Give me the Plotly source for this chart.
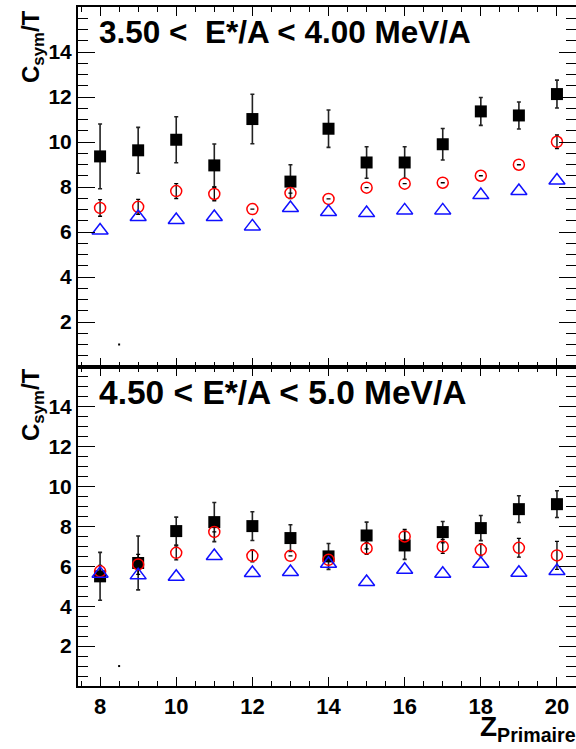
import plotly.graph_objects as go
from plotly.subplots import make_subplots

# ---------------- data ----------------
Z = [8, 9, 10, 11, 12, 13, 14, 15, 16, 17, 18, 19, 20]

top_sq = [9.36, 9.63, 10.10, 8.96, 11.02, 8.24, 10.59, 9.09, 9.09, 9.90, 11.36, 11.18, 12.13]
top_sq_err = [1.44, 1.02, 1.02, 0.95, 1.10, 0.75, 0.83, 0.70, 0.70, 0.70, 0.62, 0.60, 0.62]
top_ci = [7.07, 7.12, 7.82, 7.69, 7.02, 7.73, 7.47, 7.97, 8.15, 8.19, 8.50, 8.99, 10.01]
top_ci_err = [0.37, 0.33, 0.33, 0.30, 0.0, 0.0, 0.0, 0.0, 0.0, 0.0, 0.0, 0.0, 0.30]
top_tri = [6.07, 6.67, 6.53, 6.67, 6.25, 7.07, 6.89, 6.84, 6.96, 6.96, 7.64, 7.82, 8.29]

bot_sq = [5.50, 6.17, 7.77, 8.22, 8.02, 7.42, 6.50, 7.55, 7.05, 7.72, 7.92, 8.87, 9.12]
bot_sq_err = [1.20, 1.35, 0.70, 0.98, 0.72, 0.67, 0.65, 0.67, 0.70, 0.53, 0.63, 0.67, 0.67]
bot_ci = [5.75, 6.10, 6.68, 7.73, 6.53, 6.53, 6.33, 6.90, 7.50, 7.00, 6.83, 6.93, 6.55]
bot_ci_err = [0.30, 0.50, 0.35, 0.0, 0.30, 0.0, 0.0, 0.30, 0.35, 0.35, 0.30, 0.47, 0.70]
bot_tri = [5.63, 5.55, 5.48, 6.52, 5.67, 5.72, 6.13, 5.22, 5.83, 5.63, 6.13, 5.68, 5.77]

stray_x = [8.5]
stray_y = [1.0]

y_ticks = [2, 4, 6, 8, 10, 12, 14]
x_ticks = [8, 10, 12, 14, 16, 18, 20]

top_label = "3.50 <\u00a0 E*/A < 4.00 MeV/A"
bot_label = "4.50 < E*/A < 5.0 MeV/A"
y_title = "<b>C<sub>sym</sub>/T</b>"
x_title = "<b>Z<sub>Primaire</sub></b>"

# ---------------- figure ----------------
W, H = 576, 749
ML, MR, MT, MB = 78, 0, 7, 63
PH = H - MT - MB

fig = make_subplots(rows=2, cols=1, shared_xaxes=True, vertical_spacing=0,
                    row_heights=[360, PH - 360])

FONT = "Liberation Sans"


def add_panel(row, sq, sq_err, ci, ci_err, tri):
    fig.add_trace(go.Scatter(
        x=Z, y=sq, mode="markers",
        marker=dict(symbol="square", size=12, color="black", line=dict(width=0)),
        error_y=dict(type="data", array=sq_err, color="#222222", thickness=1.6, width=2),
        showlegend=False), row=row, col=1)
    fig.add_trace(go.Scatter(
        x=Z, y=ci, mode="markers",
        marker=dict(symbol="circle-open", size=11, color="#ff0000", line=dict(width=1.5)),
        error_y=dict(type="data", array=ci_err, color="black", thickness=1.3, width=2),
        showlegend=False), row=row, col=1)
    fig.add_trace(go.Scatter(
        x=Z, y=tri, mode="markers",
        marker=dict(symbol="triangle-up-open", size=14, color="#1010ff", line=dict(width=1.5)),
        showlegend=False), row=row, col=1)
    fig.add_trace(go.Scatter(
        x=stray_x, y=stray_y, mode="markers",
        marker=dict(symbol="square", size=2, color="black"),
        showlegend=False), row=row, col=1)


add_panel(1, top_sq, top_sq_err, top_ci, top_ci_err, top_tri)
add_panel(2, bot_sq, bot_sq_err, bot_ci, bot_ci_err, bot_tri)

xcommon = dict(range=[7.42, 20.5], tickvals=x_ticks, ticks="inside", ticklen=9,
               tickwidth=1, tickcolor="black", showline=True, linewidth=2,
               linecolor="black", mirror="ticks", showgrid=False, zeroline=False,
               automargin=False,
               minor=dict(dtick=0.5, tick0=0, ticks="inside", ticklen=5,
                          tickcolor="black", showgrid=False),
               tickfont=dict(family=FONT, size=22, color="black", weight="bold"))
fig.update_xaxes(**xcommon)
fig.update_xaxes(showticklabels=False, row=1, col=1)

ycommon = dict(range=[0, 16], tickvals=y_ticks, ticks="inside", ticklen=17,
               tickwidth=1, tickcolor="black", showline=True, linewidth=2,
               linecolor="black", mirror="ticks", showgrid=False, zeroline=False,
               automargin=False,
               minor=dict(dtick=0.5, tick0=0, ticks="inside", ticklen=10,
                          tickcolor="black", showgrid=False),
               tickfont=dict(family=FONT, size=21, color="black", weight="bold"))
fig.update_yaxes(**ycommon)


def py(p):
    return (H - MB - p) / PH


def px(p):
    return (p - ML) / (W - ML - MR)


ann = [
    dict(text=top_label, x=px(97), y=py(32), xanchor="left", yanchor="middle",
         font=dict(family=FONT, size=31.5, color="black", weight="bold")),
    dict(text=bot_label, x=px(97), y=py(392), xanchor="left", yanchor="middle",
         font=dict(family=FONT, size=33.5, color="black", weight="bold")),
    dict(text=y_title, x=px(32), y=py(47), xanchor="center", yanchor="middle",
         textangle=-90, font=dict(family=FONT, size=24, color="black")),
    dict(text=y_title, x=px(32), y=py(405), xanchor="center", yanchor="middle",
         textangle=-90, font=dict(family=FONT, size=24, color="black")),
    dict(text=x_title, x=px(578), y=py(728), xanchor="right", yanchor="middle",
         font=dict(family=FONT, size=28, color="black")),
]
for a in ann:
    a.update(xref="paper", yref="paper", showarrow=False)

fig.update_layout(width=W, height=H, margin=dict(l=ML, r=MR, t=MT, b=MB),
                  paper_bgcolor="white", plot_bgcolor="white",
                  annotations=ann, showlegend=False)

fig.write_html("out.html", config={"displayModeBar": False},
               post_script="document.body.style.margin='0';"
                           "document.body.style.overflow='hidden';")
